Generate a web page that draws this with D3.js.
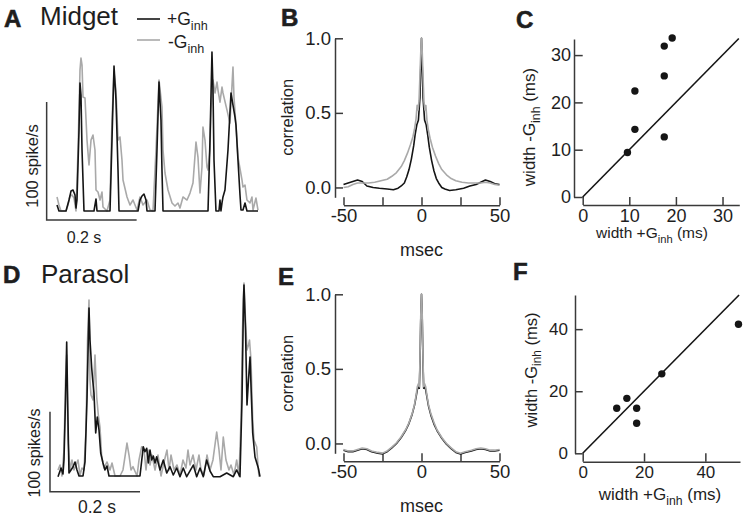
<!DOCTYPE html>
<html>
<head>
<meta charset="utf-8">
<script src="https://cdn.jsdelivr.net/npm/d3@7"></script>
<style>
body { margin: 0; background: #fff; }
svg { font-family: "Liberation Sans", Arial, Helvetica, sans-serif; }
</style>
</head>
<body>
<svg id="fig" width="750" height="523"></svg>
<script>
// ---- data ----
// firing rate traces: [time (ms), rate (spikes/s)]
var midgetPlus = [[0,5.1],[4.4,0],[20,0],[26.7,9.3],[31.1,16.9],[35.6,17.8],[40,13.6],[42.2,2.5],[44.4,9.3],[48.9,68.6],[51.1,108.4],[53.3,98.3],[55.6,51.7],[60,0],[82.2,0],[86.7,10.2],[88.9,0],[117.8,0],[122.2,60.1],[126.7,122.8],[131.1,94],[135.6,34.7],[137.8,0],[180,0],[184.4,9.3],[188.9,12.7],[193.3,14.4],[197.8,9.3],[200,0],[217.8,0],[222.2,51.7],[226.7,109.3],[231.1,77.1],[233.3,34.7],[235.6,0],[335.6,0],[340,60.1],[344.4,134.7],[346.7,102.5],[348.9,43.2],[353.3,0],[360,0],[362.2,9.3],[364.4,0],[366.7,6.8],[368.9,11.9],[373.3,17.8],[380,51.7],[386.7,100],[391.1,89.8],[395.6,79.6],[397.8,72.8],[402.2,43.2],[406.7,13.6],[408.9,0.8],[413.3,0.8],[417.8,6.8],[422.2,0],[446.7,0]];
var midgetMinus = [[0,11.9],[4.4,5.1],[8.9,0],[20,0],[24.4,5.1],[28.9,12.7],[33.3,13.6],[37.8,11],[42.2,0],[46.7,51.7],[51.1,119.4],[53.3,129.6],[55.6,123.7],[57.8,96.6],[62.2,95.7],[66.7,60.1],[71.1,39],[75.6,60.1],[80,64.4],[84.4,51.7],[86.7,17.8],[91.1,16.1],[95.6,9.3],[100,16.1],[102.2,3.4],[111.1,0],[117.8,9.3],[122.2,77.1],[126.7,117.7],[131.1,102.5],[135.6,60.1],[140,62.7],[144.4,43.2],[146.7,26.3],[155.6,11.9],[162.2,5.1],[168.9,9.3],[177.8,0.8],[184.4,11.9],[191.1,5.1],[200,9.3],[206.7,0.8],[213.3,0],[220,51.7],[226.7,111],[233.3,88.1],[235.6,51.7],[240,32.2],[246.7,17.8],[255.6,6.8],[262.2,4.2],[268.9,6.8],[273.3,2.5],[280,11.9],[288.9,9.3],[295.6,15.2],[302.2,23.7],[308.9,58.4],[313.3,45.7],[317.8,15.2],[322.2,37.3],[324.4,71.1],[328.9,60.1],[333.3,37.3],[335.6,34.7],[340,51.7],[342.2,85.5],[346.7,111],[351.1,100],[355.6,109.3],[357.8,102.5],[362.2,92.3],[366.7,105],[368.9,100],[377.8,85.5],[384.4,74.5],[391.1,122],[393.3,96.6],[400,60.1],[402.2,45.7],[411.1,26.3],[413.3,20.3],[417.8,22],[422.2,9.3],[428.9,6.8],[433.3,11.9],[435.6,0.8],[442.2,11],[446.7,0.8]];
var parasolPlus = [[0,0],[6.7,10.9],[11.1,3.4],[13.3,20.9],[16.7,95.9],[19.3,168.4],[22.2,70.9],[24.4,4.6],[28.9,8.4],[33.3,12.1],[37.8,18.4],[42.2,8.4],[46.7,0.9],[55.6,0.9],[60,18.4],[64.4,95.9],[67.8,183.4],[68.9,210.9],[71.1,170.9],[74.9,135.9],[77.1,120.9],[80,104.6],[83.8,54.6],[87.3,74.6],[91.1,58.4],[94.9,29.6],[100,17.1],[104.4,8.4],[108.9,13.4],[113.3,0.9],[182.2,0.9],[189.5,37.5],[193.3,31.3],[197.1,35.5],[200.7,17.1],[204.4,33.4],[208.2,20.9],[211.8,25.9],[215.6,17.1],[219.3,25],[226.7,8.4],[234,20.9],[241.6,4.6],[248.9,12.5],[256.2,2.1],[263.8,10.9],[271.1,0],[278.4,10.9],[286,0],[300.7,14.6],[308.2,0],[315.6,10.9],[322.9,0],[330.4,20.9],[337.8,7.1],[345.1,0],[360,0],[374.9,4.6],[389.6,0],[397.1,8.4],[404.4,0],[408.9,95.9],[412.2,220.9],[413.3,239.6],[416.7,183.4],[420,89.6],[423.3,120.9],[426.7,149.6],[430,95.9],[432.7,54.6],[437.8,24.6],[445.1,10.9],[448.9,0]];
var parasolMinus = [[0,8.4],[4.4,14.6],[8.9,0.9],[13.3,33.4],[16.7,120.9],[19.3,152.1],[22.2,45.9],[26.7,8.4],[31.1,20.9],[35.6,8.4],[40,14.6],[44.4,20.9],[48.9,2.1],[53.3,10.9],[57.8,8.4],[62.2,58.4],[65.6,170.9],[68.9,220.9],[71.1,120.9],[73.3,102.1],[77.8,95.9],[82.2,152.1],[86,99.6],[89.6,77.1],[93.3,62.1],[97.1,24.6],[102.2,10.9],[108.9,18.4],[115.6,8.4],[120,17.1],[126.7,0.9],[137.8,0.9],[144.4,8.4],[148.9,25],[153.3,42.1],[157.8,27.1],[162.2,8.4],[166.7,12.5],[175.6,0.9],[180,20.9],[186,37.5],[191.1,33.4],[195.6,8.4],[200,33.4],[204.4,14.6],[208.9,27.1],[215.6,8.4],[222.2,27.1],[228.9,0.9],[235.6,18.4],[242.2,33.4],[246.7,8.4],[251.1,27.1],[257.8,8.4],[264.4,14.6],[271.1,2.1],[277.8,20.9],[284.4,10.9],[288.9,33.4],[293.3,14.6],[300,27.1],[306.7,8.4],[313.3,27.1],[317.8,8.4],[324.4,2.1],[331.1,27.1],[337.8,8.4],[344.4,20.9],[352.7,55.9],[357.8,33.4],[362.2,8.4],[367.3,49.6],[373.3,20.9],[380,8.4],[384.4,14.6],[391.1,2.1],[397.1,20.9],[402.2,0.9],[406.7,70.9],[410,183.4],[413.3,242.1],[416.7,195.9],[420,158.4],[423.3,164.6],[425.6,170.9],[428.9,145.9],[432.7,70.9],[435.6,45.9],[441.6,37.1],[444.4,14.6],[446.7,0]];

// autocorrelations: [lag (msec), correlation]
var corrMidgetPlus = [[-50,0.02],[-47,0.03],[-44,0.04],[-41,0.05],[-38,0.04],[-35,0.01],[-31,0],[-27,-0.005],[-22,-0.01],[-18,-0.015],[-15,-0.005],[-13,0.01],[-11,0.03],[-9.5,0.07],[-8,0.12],[-6.5,0.19],[-5,0.28],[-4,0.36],[-3,0.42],[-2,0.45],[-1,0.6],[-0.5,0.8],[0,1],[0.5,0.8],[1,0.6],[2,0.45],[3,0.42],[4,0.35],[5,0.27],[6.5,0.18],[8,0.11],[9.5,0.06],[11,0.03],[13,0],[15,-0.01],[18,-0.02],[22,-0.015],[27,-0.005],[31,0.01],[35,0.02],[38,0.035],[41,0.05],[44,0.04],[47,0.025],[50,0.02]];
var corrMidgetMinus = [[-50,0],[-47,0.005],[-44,0.02],[-41,0.03],[-38,0.03],[-34,0.03],[-30,0.035],[-26,0.045],[-22,0.055],[-19,0.075],[-16,0.1],[-13,0.14],[-11,0.18],[-9,0.23],[-7,0.29],[-5.5,0.34],[-4.5,0.39],[-3.5,0.46],[-2.8,0.55],[-2.2,0.52],[-1.6,0.58],[-1,0.75],[-0.5,0.9],[0,1],[0.5,0.9],[1,0.74],[1.6,0.57],[2.2,0.52],[2.8,0.55],[3.5,0.45],[4.5,0.38],[5.5,0.33],[7,0.27],[9,0.21],[11,0.16],[13,0.12],[16,0.085],[19,0.06],[22,0.045],[26,0.035],[30,0.03],[34,0.03],[38,0.03],[41,0.035],[44,0.03],[47,0.02],[50,0.015]];
var corrParasolPlus = [[-50,-0.045],[-47,-0.055],[-44,-0.055],[-41,-0.045],[-38,-0.035],[-35,-0.04],[-32,-0.055],[-28,-0.065],[-25,-0.07],[-22,-0.055],[-19,-0.03],[-16,0],[-13,0.04],[-10,0.09],[-8,0.135],[-6,0.195],[-4.5,0.255],[-3.5,0.31],[-2.7,0.36],[-2,0.38],[-1.4,0.37],[-1,0.52],[-0.5,0.82],[0,1],[0.5,0.82],[1,0.52],[1.4,0.37],[2,0.38],[2.7,0.36],[3.5,0.31],[4.5,0.25],[6,0.19],[8,0.13],[10,0.085],[13,0.035],[16,-0.005],[19,-0.035],[22,-0.06],[25,-0.07],[28,-0.06],[32,-0.05],[35,-0.04],[38,-0.035],[41,-0.04],[44,-0.05],[47,-0.05],[50,-0.045]];
var corrParasolMinus = [[-50,-0.04],[-47,-0.05],[-44,-0.05],[-41,-0.04],[-38,-0.03],[-35,-0.035],[-32,-0.05],[-28,-0.06],[-25,-0.065],[-22,-0.05],[-19,-0.025],[-16,0.005],[-13,0.045],[-10,0.095],[-8,0.14],[-6,0.2],[-4.5,0.26],[-3.5,0.32],[-2.7,0.38],[-2,0.4],[-1.4,0.38],[-1,0.55],[-0.5,0.85],[0,1],[0.5,0.85],[1,0.55],[1.4,0.38],[2,0.4],[2.7,0.38],[3.5,0.32],[4.5,0.26],[6,0.2],[8,0.14],[10,0.09],[13,0.04],[16,0],[19,-0.03],[22,-0.055],[25,-0.065],[28,-0.055],[32,-0.045],[35,-0.035],[38,-0.03],[41,-0.035],[44,-0.045],[47,-0.045],[50,-0.04]];

// widths (ms): [with inhibition, without inhibition]
var midgetWidths = [[9.6,9.4],[11.2,14.3],[11.2,22.4],[17.5,12.7],[17.5,25.6],[17.5,31.9],[19.2,33.6]];
var parasolWidths = [[11.1,14.5],[14.4,17.7],[17.6,14.5],[17.6,9.7],[25.8,25.6],[50.8,41.6]];

var corrTicks = [-50, -25, 0, 25, 50];
var corrLabels = [-50, 0, 50];
var corrYTicks = [0, 0.5, 1];
var midgetWidthTicks = [0, 10, 20, 30];
var parasolWidthTicks = [0, 20, 40];

var BLACK = "#151515", GRAY = "#a9a9a9", AXIS = "#3a3a3a", TEXT = "#1e1e1e";

var svg = d3.select("#fig");

function panelLetter(x, y, s) {
	svg.append("text").attr("x", x).attr("y", y)
		.attr("font-size", 24).attr("font-weight", "bold").attr("fill", TEXT)
		.attr("stroke", TEXT).attr("stroke-width", 0.6).text(s);
}

// "pre G_inh post" label, optionally rotated
function ginhLabel(x, y, pre, post, fs, rotate) {
	var t = svg.append("text")
		.attr("transform", "translate(" + x + "," + y + ")" + (rotate ? " rotate(-90)" : ""))
		.attr("text-anchor", "middle").attr("font-size", fs).attr("fill", TEXT);
	t.append("tspan").text(pre + "G");
	t.append("tspan").attr("font-size", fs * 0.72).attr("dy", fs * 0.3).text("inh");
	t.append("tspan").attr("dy", -fs * 0.3).text(post);
	return t;
}

function styleAxis(g, fs) {
	g.attr("font-size", null).attr("font-family", null);
	g.selectAll("path, line").attr("stroke", AXIS).attr("stroke-width", 1.5);
	g.selectAll("text").attr("fill", TEXT).style("font-size", fs + "px");
}

function trace(x, y, data, colour) {
	var line = d3.line()
		.x(function (d) { return x(d[0]); })
		.y(function (d) { return y(d[1]); });
	svg.append("path").datum(data)
		.attr("fill", "none").attr("stroke", colour).attr("stroke-width", 1.6)
		.attr("stroke-linejoin", "round").attr("d", line);
}

// ---- A / D : firing rate traces with scale bars ----
function ratePanel(plus, minus, x, y, bar, barLabel, sFont, tLabel) {
	trace(x, y, minus, GRAY);
	trace(x, y, plus, BLACK);
	// scale bar: 200 ms by 100 spikes/s
	svg.append("path")
		.attr("fill", "none").attr("stroke", AXIS).attr("stroke-width", 1.5)
		.attr("d", "M" + x(bar[0]) + "," + y(bar[1] + 100) +
			"V" + y(bar[1]) + "H" + x(bar[0] + 200));
	svg.append("text")
		.attr("transform", "translate(" + tLabel[0] + "," + tLabel[1] + ") rotate(-90)")
		.attr("text-anchor", "middle").attr("font-size", sFont).attr("fill", TEXT)
		.text(barLabel);
	svg.append("text").attr("x", tLabel[2]).attr("y", tLabel[3])
		.attr("text-anchor", "middle").attr("font-size", tLabel[4]).attr("fill", TEXT)
		.text("0.2 s");
}

var xA = d3.scaleLinear().domain([0, 446.7]).range([57, 258]);
var yA = d3.scaleLinear().domain([0, 100]).range([211, 93]);
ratePanel(midgetPlus, midgetMinus, xA, yA, [-23, -7.6], "100 spike/s", 16.5, [38, 166, 84, 243, 16]);

var xD = d3.scaleLinear().domain([0, 448.9]).range([58, 260]);
var yD = d3.scaleLinear().domain([0, 100]).range([476.7, 396.7]);
ratePanel(parasolPlus, parasolMinus, xD, yD, [-17.8, -18.75], "100 spikes/s", 16, [40, 453, 97, 513, 17.5]);

panelLetter(4, 27, "A");
svg.append("text").attr("x", 40).attr("y", 25).attr("font-size", 26).attr("fill", TEXT).text("Midget");
panelLetter(3, 283, "D");
svg.append("text").attr("x", 41).attr("y", 283).attr("font-size", 26).attr("fill", TEXT).text("Parasol");

// legend
svg.append("line").attr("x1", 137).attr("x2", 160).attr("y1", 19).attr("y2", 19)
	.attr("stroke", BLACK).attr("stroke-width", 1.6);
svg.append("line").attr("x1", 137).attr("x2", 160).attr("y1", 40).attr("y2", 40)
	.attr("stroke", GRAY).attr("stroke-width", 1.6);
ginhLabel(167, 25, "+", "", 17.5).attr("text-anchor", "start");
ginhLabel(168, 48, "-", "", 17.5).attr("text-anchor", "start");

// ---- B / E : autocorrelations ----
function corrPanel(plus, minus, top) {
	var x = d3.scaleLinear().domain([-50, 50]).range([343.5, 499.5]);
	var y = d3.scaleLinear().domain([-0.066, 1]).range([top + 159, top]);

	svg.append("g").attr("transform", "translate(335,0)")
		.call(d3.axisLeft(y).tickValues(corrYTicks).tickFormat(d3.format(".1f"))
			.tickSizeInner(-8).tickSizeOuter(0).tickPadding(4))
		.call(styleAxis, 18.5);

	svg.append("g").attr("transform", "translate(0," + (top + 167) + ")")
		.call(d3.axisBottom(x).tickValues(corrTicks)
			.tickFormat(function (d) { return corrLabels.indexOf(d) >= 0 ? String(d) : ""; })
			.tickSizeInner(-8).tickSizeOuter(0).tickPadding(4))
		.call(styleAxis, 18.5);

	trace(x, y, plus, BLACK);
	trace(x, y, minus, GRAY);

	svg.append("text")
		.attr("transform", "translate(293," + (top + 79) + ") rotate(-90)")
		.attr("text-anchor", "middle").attr("font-size", 16.5).attr("fill", TEXT).text("correlation");
	svg.append("text").attr("x", 421.5).attr("y", top + 218)
		.attr("text-anchor", "middle").attr("font-size", 18).attr("fill", TEXT).text("msec");
}

corrPanel(corrMidgetPlus, corrMidgetMinus, 38.3);
corrPanel(corrParasolPlus, corrParasolMinus, 294.3);
panelLetter(281, 26, "B");
panelLetter(278, 285, "E");

// ---- C / F : spike width scatter ----
function widthPanel(data, xDom, xRange, yDom, yRange, yAxisX, xAxisY, ticks, fs, pad, diag) {
	var x = d3.scaleLinear().domain(xDom).range(xRange);
	var y = d3.scaleLinear().domain(yDom).range(yRange);

	svg.append("g").attr("transform", "translate(" + yAxisX + ",0)")
		.call(d3.axisLeft(y).tickValues(ticks).tickSizeInner(-(xRange[0] - yAxisX)).tickSizeOuter(0).tickPadding(pad))
		.call(styleAxis, fs);
	svg.append("g").attr("transform", "translate(0," + xAxisY + ")")
		.call(d3.axisBottom(x).tickValues(ticks).tickSizeInner(-(xAxisY - yRange[0])).tickSizeOuter(0).tickPadding(4))
		.call(styleAxis, fs);

	svg.append("line")
		.attr("x1", x(0)).attr("y1", y(0)).attr("x2", x(diag)).attr("y2", y(diag))
		.attr("stroke", BLACK).attr("stroke-width", 1.6);

	svg.append("g").selectAll("circle").data(data).enter().append("circle")
		.attr("cx", function (d) { return x(d[0]); })
		.attr("cy", function (d) { return y(d[1]); })
		.attr("r", 3.7).attr("fill", BLACK);
}

widthPanel(midgetWidths, [0, 33.6], [582.7, 739.3], [0, 33.4], [197, 39], 574, 205, midgetWidthTicks, 18, 3, 33.5);
widthPanel(parasolWidths, [0, 51.3], [582.7, 740], [0, 51], [453.3, 295], 575, 461.7, parasolWidthTicks, 17, 7, 51);

ginhLabel(652, 238, "width +", " (ms)", 15.5);
ginhLabel(535, 127, "width -", " (ms)", 17, true);
ginhLabel(660, 500, "width +", " (ms)", 17);
ginhLabel(536.5, 370, "width -", " (ms)", 16.5, true);
panelLetter(516, 28, "C");
panelLetter(513, 280, "F");
</script>
</body>
</html>
